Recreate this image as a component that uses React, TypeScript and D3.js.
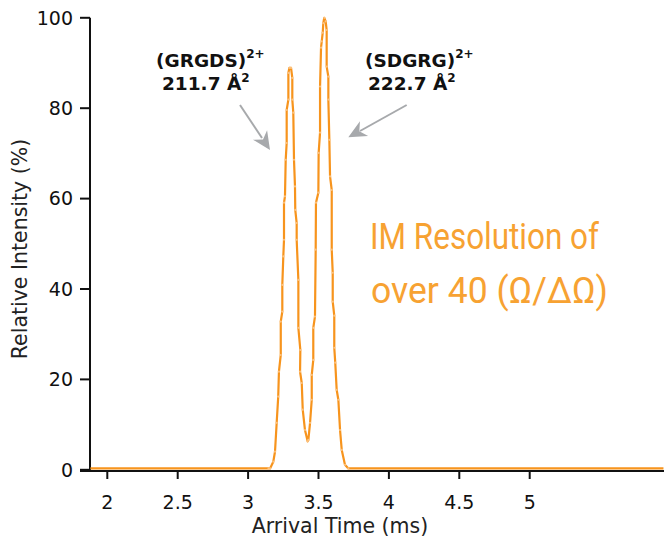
import React from "react";
import * as d3 from "d3";

const arrivalTime = [1.88, 2.2, 2.6, 3.0, 3.145, 3.156, 3.179, 3.191, 3.203, 3.214, 3.219, 3.232, 3.232, 3.243, 3.243, 3.25, 3.255, 3.255, 3.262, 3.267, 3.274, 3.274, 3.286, 3.286, 3.293, 3.305, 3.314, 3.314, 3.321, 3.326, 3.333, 3.335, 3.345, 3.345, 3.357, 3.357, 3.371, 3.369, 3.381, 3.388, 3.404, 3.423, 3.428, 3.44, 3.452, 3.452, 3.463, 3.463, 3.475, 3.48, 3.482, 3.499, 3.501, 3.511, 3.511, 3.518, 3.523, 3.53, 3.534, 3.541, 3.551, 3.558, 3.558, 3.57, 3.57, 3.577, 3.582, 3.594, 3.594, 3.601, 3.601, 3.612, 3.612, 3.619, 3.629, 3.641, 3.653, 3.665, 3.688, 3.712, 4.0, 4.5, 5.0, 5.5, 5.95];
const intensity = [0.3, 0.3, 0.3, 0.3, 0.3, 0.3, 1.8, 4.0, 10.4, 16.2, 21.7, 25.4, 32.8, 35.0, 40.9, 47.2, 50.9, 59.1, 60.5, 68.6, 72.3, 79.6, 81.9, 87.8, 88.9, 88.9, 86.7, 81.9, 79.0, 68.6, 62.7, 57.5, 54.6, 50.9, 42.0, 31.4, 26.5, 21.7, 19.2, 13.3, 8.8, 6.3, 6.6, 10.4, 15.5, 21.0, 24.3, 31.4, 33.9, 48.7, 59.1, 61.3, 70.1, 74.6, 84.8, 93.4, 94.8, 96.7, 98.8, 100, 99.2, 97.3, 89.2, 87.0, 81.9, 73.0, 64.9, 61.9, 48.7, 43.6, 37.2, 34.1, 27.0, 23.7, 17.7, 15.5, 8.8, 4.4, 1.1, 0.3, 0.3, 0.3, 0.3, 0.3, 0.3];
const xTicks = [2, 2.5, 3, 3.5, 4, 4.5, 5];
const yTicks = [0, 20, 40, 60, 80, 100];

const ORANGE = "#F7941D";
const GRAY = "#A7A9AC";
const FONT = "DejaVu Sans, Verdana, sans-serif";

export default function App() {
  const x = d3.scaleLinear().domain([2, 5]).range([107.3, 529.7]);
  const y = d3.scaleLinear().domain([0, 100]).range([469.8, 17.8]);
  const x1 = 664;
  const axisY = 471;

  const pts = arrivalTime.map((t, i) => [x(t), y(intensity[i])] as [number, number]);
  const line = d3.line()(pts) || "";

  const arrowHead = (fx: number, fy: number, tx: number, ty: number) => {
    const ang = Math.atan2(ty - fy, tx - fx);
    const L = 18, W = 8.5;
    const bx = tx - L * Math.cos(ang), by = ty - L * Math.sin(ang);
    const px = -Math.sin(ang), py = Math.cos(ang);
    const mx = tx - L * 0.7 * Math.cos(ang), my = ty - L * 0.7 * Math.sin(ang);
    return `M${tx},${ty}L${bx + px * W},${by + py * W}L${mx},${my}L${bx - px * W},${by - py * W}Z`;
  };

  return (
    <svg width={664} height={537} style={{ position: "absolute", left: 0, top: 0, background: "#fff" }}>
      {/* y axis */}
      <line x1={90} x2={90} y1={y(100)} y2={axisY} stroke="#111" strokeWidth={2} />
      {yTicks.map((v) => (
        <g key={v}>
          <line x1={80} x2={90} y1={y(v)} y2={y(v)} stroke="#111" strokeWidth={2} />
          <text x={73} y={y(v)} dy="0.36em" textAnchor="end" fontFamily={FONT} fontSize={19} fill="#111">{v}</text>
        </g>
      ))}
      {/* x axis */}
      <line x1={80} x2={x1} y1={axisY} y2={axisY} stroke="#111" strokeWidth={2} />
      {xTicks.map((v) => (
        <g key={v}>
          <line x1={x(v)} x2={x(v)} y1={axisY} y2={479} stroke="#111" strokeWidth={2} />
          <text x={x(v)} y={509} textAnchor="middle" fontFamily={FONT} fontSize={19} fill="#111">{v}</text>
        </g>
      ))}
      <text x={340} y={533} textAnchor="middle" fontFamily={FONT} fontSize={20.5} fill="#222">Arrival Time (ms)</text>
      <text transform="translate(27,249) rotate(-90)" textAnchor="middle" fontFamily={FONT} fontSize={20.5} fill="#222">Relative Intensity (%)</text>

      {/* data */}
      <path d={line} fill="none" stroke={ORANGE} strokeWidth={2.2} strokeLinejoin="round" />
      {pts.slice(4, 80).map((p, i) => (
        <circle key={i} cx={p[0]} cy={p[1]} r={1.1} fill="#FCC27F" />
      ))}

      {/* annotations */}
      <text x={156} y={67} fontFamily={FONT} fontSize={18.5} fontWeight="bold" fill="#111">
        (GRGDS)<tspan fontSize={12} dy={-9}>2+</tspan>
      </text>
      <text x={162} y={90} fontFamily={FONT} fontSize={18.5} fontWeight="bold" fill="#111">
        211.7 Å<tspan fontSize={12} dy={-8}>2</tspan>
      </text>
      <text x={365} y={67} fontFamily={FONT} fontSize={18.5} fontWeight="bold" fill="#111">
        (SDGRG)<tspan fontSize={12} dy={-9}>2+</tspan>
      </text>
      <text x={368} y={90} fontFamily={FONT} fontSize={18.5} fontWeight="bold" fill="#111">
        222.7 Å<tspan fontSize={12} dy={-8}>2</tspan>
      </text>
      <line x1={240} y1={105} x2={262} y2={138} stroke={GRAY} strokeWidth={2} />
      <path d={arrowHead(240, 105, 270, 150)} fill={GRAY} />
      <line x1={406.7} y1={105} x2={360} y2={131} stroke={GRAY} strokeWidth={2} />
      <path d={arrowHead(406.7, 105, 348.3, 137.3)} fill={GRAY} />

      <text x={370} y={248.5} fontFamily="Roboto, sans-serif" fontWeight={400} fontSize={36} fill="#F7A232" textLength={229} lengthAdjust="spacingAndGlyphs">IM Resolution of</text>
      <text x={371} y={302.5} fontFamily="Roboto, sans-serif" fontWeight={400} fontSize={36} fill="#F7A232" textLength={237} lengthAdjust="spacingAndGlyphs">over 40 (Ω/ΔΩ)</text>
    </svg>
  );
}
